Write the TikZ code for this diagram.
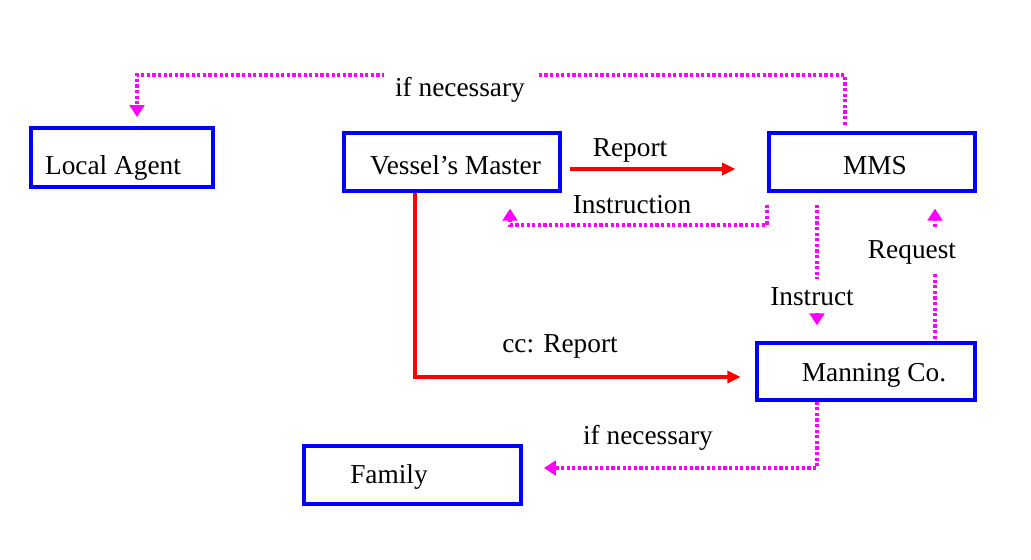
\documentclass[tikz,border=0pt]{standalone}
\usepackage{fontspec}
\setmainfont{Liberation Serif}
\usetikzlibrary{arrows.meta}
\definecolor{bblue}{RGB}{0,0,255}
\definecolor{rred}{RGB}{255,0,0}
\definecolor{mag}{RGB}{255,0,255}
\begin{document}
\begin{tikzpicture}[x=0.75pt,y=-0.75pt,
  box/.style={draw=bblue,line width=2.4pt,rectangle,inner sep=0pt},
  txt/.style={anchor=base,inner sep=0pt,font=\fontsize{20.5}{24}\selectfont},
  lbl/.style={anchor=base,fill=white,inner xsep=2pt,inner ysep=4pt,font=\fontsize{20.5}{24}\selectfont},
  redarrow/.style={draw=rred,line width=2.4pt,-{Triangle[length=10pt,width=9pt]}},
  magarrow/.style={draw=mag,line width=2.4pt,dash pattern=on 2.4pt off 1.8pt,-{Triangle[length=9pt,width=11pt]}}
]
\useasboundingbox (0,0) rectangle (1031,560);
% boxes
\node[box,minimum width=136.5pt,minimum height=44.25pt] (la) at (122,157.5) {};
\node[box,minimum width=162pt,minimum height=43.5pt] (vm) at (452,162) {};
\node[box,minimum width=154.5pt,minimum height=43.5pt] (mms) at (872,162) {};
\node[box,minimum width=163.5pt,minimum height=42.75pt] (mc) at (866,371.5) {};
\node[box,minimum width=162.75pt,minimum height=43.5pt] (fam) at (412.5,475) {};
% box texts
\node[txt] (tla) at (113,174) {Local Agent};
\node[txt] (tvm) at (455.5,174) {Vessel’s Master};
\node[txt] (tmms) at (875,174) {MMS};
\node[txt] (tmc) at (874,381) {Manning Co.};
\node[txt] (tfam) at (389,483) {Family};
% connectors
\draw[redarrow,shorten <=6pt,shorten >=24pt] (vm.east |- 0,169) -- (mms.west |- 0,169);
\draw[redarrow,shorten >=11pt] (vm.south -| 415,0) |- (mc.west |- 0,377);
\draw[magarrow,shorten <=9pt,shorten >=12pt] (mms.south -| 767,0) |- (510,225) -- (vm.south -| 510,0);
\draw[magarrow,shorten <=5pt,shorten >=7pt] (mms.north -| 845,0) |- (137,75) -- (la.north -| 137,0);
\draw[magarrow,shorten <=9pt,shorten >=12pt] (mms.south -| 817,0) -- (mc.north -| 817,0);
\draw[magarrow,shorten <=2pt,shorten >=12pt] (mc.north -| 935,0) -- (mms.south -| 935,0);
\draw[magarrow,shorten >=16pt] (mc.south -| 817,0) |- (fam.east |- 0,468);
% labels
\node[txt] (lrep) at (630,156) {Report};
\node[txt] (lins) at (632,213) {Instruction};
\node[lbl,inner xsep=8pt] (lif1) at (460,97) {if necessary};
\node[lbl,inner ysep=6pt] (linst) at (812,305) {Instruct};
\node[lbl,inner ysep=8pt] (lreq) at (912,258) {Request};
\node[txt] (lcc) at (560,352) {cc: Report};
\node[txt] (lif2) at (648,444) {if necessary};
\end{tikzpicture}
\end{document}
